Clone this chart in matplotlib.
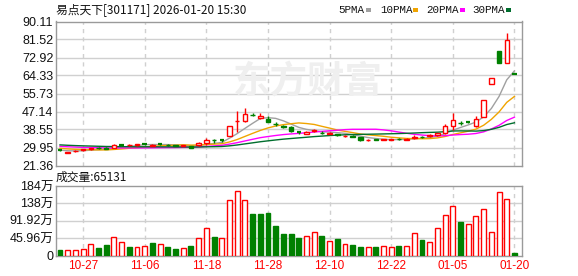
import matplotlib
matplotlib.use('Agg')
import matplotlib.pyplot as plt
from matplotlib.patches import Rectangle
import numpy as np
import pandas as pd

plt.rcParams['font.family'] = ['Liberation Sans', 'Noto Sans CJK SC']

title_text = '易点天下[301171] 2026-01-20 15:30'
volume_title = '成交量:65131'

pre_closes = [33.5, 33.0, 32.8, 32.4, 32.6, 32.3, 32.5, 32.2, 32.4, 32.3,
              31.8, 31.5, 31.9, 31.2, 31.6, 31.0, 31.4, 31.3, 30.9, 31.4,
              31.0, 30.6, 30.4, 30.2, 30.3,
              29.4, 28.9, 28.6, 28.1]

opens = [28.6, 27.5, 28.2, 28.6, 29.0, 29.7, 29.9, 29.6, 31.3, 31.0,
         31.1, 31.7, 30.9, 31.5, 31.3, 31.0, 30.7, 30.5, 31.2, 32.0,
         33.5, 33.5, 35.6, 42.4, 42.4, 45.6, 44.2, 43.5, 41.4, 40.2,
         39.6, 37.2, 36.6, 37.6, 37.0, 36.6, 36.3, 35.3, 35.6, 34.9,
         33.4, 33.8, 33.5, 33.6, 34.0, 33.7, 34.4, 35.1, 35.3, 35.8,
         36.8, 40.1, 41.8, 41.9, 40.3, 44.5, 60.4, 75.9, 70.3, 65.2]
highs = [28.8, 28.0, 28.6, 29.2, 29.8, 30.0, 30.2, 31.4, 31.7, 31.5,
         31.6, 32.2, 31.5, 32.0, 31.5, 31.2, 31.2, 30.8, 32.5, 34.4,
         34.1, 34.1, 40.1, 47.5, 49.0, 46.6, 46.2, 45.2, 41.9, 40.8,
         40.1, 37.9, 37.6, 38.7, 37.6, 37.3, 36.5, 35.9, 35.8, 35.1,
         33.9, 34.0, 34.0, 34.1, 34.3, 34.3, 35.8, 35.3, 36.2, 37.0,
         41.4, 46.6, 42.5, 42.6, 45.2, 52.8, 63.2, 75.9, 84.6, 65.2]
lows = [28.3, 27.1, 28.0, 28.4, 28.9, 29.3, 29.0, 29.5, 30.9, 30.8,
        30.9, 31.2, 30.7, 31.0, 30.9, 30.6, 30.6, 29.6, 30.8, 31.2,
        32.2, 32.5, 35.3, 37.5, 42.0, 44.8, 43.6, 41.9, 40.3, 39.3,
        37.5, 36.5, 36.2, 37.3, 36.5, 36.2, 35.6, 35.0, 34.9, 33.0,
        33.2, 33.3, 33.3, 33.4, 33.5, 33.5, 34.2, 34.6, 35.1, 35.5,
        36.2, 38.3, 40.9, 41.5, 39.9, 44.4, 60.4, 70.2, 70.2, 65.2]
closes = [28.5, 27.9, 28.5, 29.0, 29.6, 29.5, 29.3, 31.1, 31.2, 31.3,
          31.4, 31.6, 31.3, 31.4, 31.0, 30.8, 31.0, 29.9, 31.9, 33.4,
          33.3, 33.4, 40.0, 42.8, 45.8, 45.4, 45.0, 42.0, 41.1, 39.9,
          37.7, 37.1, 37.2, 38.4, 36.8, 37.0, 35.8, 35.6, 35.1, 33.3,
          33.7, 33.6, 33.8, 33.9, 33.8, 34.1, 35.2, 34.9, 35.7, 36.7,
          40.4, 43.2, 41.6, 41.8, 43.6, 52.7, 63.2, 70.3, 81.5, 65.1]

# volume in 万 shares
volumes = [13.3, 13.3, 13.3, 16.0, 29.3, 19.6, 26.7, 49.8, 34.7, 21.3,
           21.3, 25.8, 32.0, 29.3, 21.3, 16.0, 18.7, 24.0, 47.1, 73.7,
           48.0, 45.3, 145.7, 169.6, 145.7, 109.2, 109.2, 111.9, 77.3, 56.0,
           56.0, 45.3, 52.4, 63.1, 50.6, 37.3, 42.6, 29.3, 26.7, 21.3,
           23.1, 21.3, 25.8, 23.1, 24.0, 25.8, 58.6, 40.0, 34.7, 72.0,
           106.6, 130.6, 88.8, 82.6, 103.9, 121.7, 61.3, 167.8, 149.2, 6.5]
vol_dirs = ['g', 'r', 'r', 'r', 'r', 'g', 'g', 'r', 'r', 'g',
            'r', 'r', 'g', 'r', 'g', 'g', 'r', 'g', 'r', 'r',
            'g', 'r', 'r', 'r', 'r', 'g', 'g', 'g', 'g', 'g',
            'g', 'g', 'r', 'r', 'g', 'r', 'g', 'r', 'g', 'g',
            'r', 'g', 'r', 'r', 'g', 'r', 'r', 'g', 'r', 'r',
            'r', 'r', 'g', 'r', 'r', 'r', 'r', 'r', 'r', 'g']

price_ticks = [21.36, 29.95, 38.55, 47.14, 55.73, 64.33, 72.92, 81.52, 90.11]
vol_ticks = [0, 45.96, 91.92, 137.88, 183.84]
vol_tick_labels = ['0', '45.96万', '91.92万', '138万', '184万']
date_positions = [3, 11, 19, 27, 35, 43, 51, 59]
date_labels = ['10-27', '11-06', '11-18', '11-28', '12-10', '12-22', '01-05', '01-20']

ma_periods = [5, 10, 20, 30]
ma_names = ['5PMA', '10PMA', '20PMA', '30PMA']
ma_colors = ['#a0a0a0', '#f0a400', '#ff00ff', '#006e2e']

RED = '#ff0000'
GREEN = '#008000'
GRID = '#d0d0d0'
FRAME = '#9a9a9a'

W, H = 578, 276
fig = plt.figure(figsize=(W / 100, H / 100), dpi=100)


def fig_rect(x0, y0, x1, y1):
    return [x0 / W, 1 - y1 / H, (x1 - x0) / W, (y1 - y0) / H]


n = len(closes)
xlim = (-0.52, n - 0.02)

ax = fig.add_axes(fig_rect(56, 21.5, 522, 165.5))
axv = fig.add_axes(fig_rect(56, 186, 522, 255.5))

for a in (ax, axv):
    a.set_xlim(*xlim)
    for s in a.spines.values():
        s.set_color(FRAME)
        s.set_linewidth(1)
    a.tick_params(length=0)
    a.set_xticks([])
    for p in date_positions:
        a.axvline(p, color=GRID, lw=1, ls=(0, (3, 3)), zorder=0)

# price panel
ax.set_ylim(price_ticks[0], price_ticks[-1])
ax.set_yticks(price_ticks)
ax.set_yticklabels([f'{t:.2f}' for t in price_ticks], fontsize=9, color='#111111')
ax.tick_params(axis='y', pad=2)
for t in price_ticks[1:-1]:
    ax.axhline(t, color=GRID, lw=1, zorder=0)

ax.text(0.54, 0.58, '东方财富', transform=ax.transAxes, fontsize=27,
        family=['Noto Sans CJK SC'], fontweight='bold', color='#efefef',
        ha='center', va='center', zorder=0.5, style='italic')

all_close = pd.Series(pre_closes + closes)
for per, col in zip(ma_periods, ma_colors):
    ma = all_close.rolling(per).mean().to_numpy()[-n:]
    ax.plot(np.arange(n), ma, color=col, lw=1, zorder=2)

bw = 0.58
for i in range(n):
    o, h, l, c = opens[i], highs[i], lows[i], closes[i]
    up = c > o
    col = RED if up else GREEN
    ax.vlines(i, l, h, color=col, lw=1, zorder=3)
    bottom = min(o, c)
    height = abs(c - o)
    if height < 0.12:
        ax.hlines(o, i - bw / 2, i + bw / 2, color=col, lw=1.6, zorder=4)
    else:
        ax.add_patch(Rectangle((i - bw / 2, bottom), bw, height,
                               facecolor='white' if up else col,
                               edgecolor=col, lw=1, zorder=4))

# volume panel
axv.set_ylim(0, vol_ticks[-1])
axv.set_yticks(vol_ticks)
axv.set_yticklabels(vol_tick_labels, fontsize=9, color='#111111',
                    family=['Liberation Sans', 'Noto Sans CJK SC'])
axv.tick_params(axis='y', pad=2)
for t in vol_ticks[1:-1]:
    axv.axhline(t, color=GRID, lw=1, zorder=0)
vw = 0.64
for i in range(n):
    col = RED if vol_dirs[i] == 'r' else GREEN
    axv.add_patch(Rectangle((i - vw / 2, 0), vw, volumes[i],
                            facecolor='white' if vol_dirs[i] == 'r' else col,
                            edgecolor=col, lw=1, zorder=3))

for p, lab in zip(date_positions, date_labels):
    fig.text((56 + (p - xlim[0]) / (xlim[1] - xlim[0]) * 466) / W, 1 - 266 / H, lab,
             color=RED, fontsize=8.5, ha='center', va='center')

# titles
fig.text(56 / W, 1 - 9.5 / H, title_text, fontsize=8.5,
         family=['Noto Sans CJK SC'], va='center', ha='left', color='#111111')
fig.text(56 / W, 1 - 177 / H, volume_title, fontsize=8.5,
         family=['Noto Sans CJK SC'], va='center', ha='left', color='#111111')

# legend
leg_x = [338, 380, 426, 472]
mk_x = [366, 413, 460, 506]
for name, col, tx, mx in zip(ma_names, ma_colors, leg_x, mk_x):
    fig.text(tx / W, 1 - 10 / H, name, fontsize=7.8, family=['Liberation Mono'],
             va='center', ha='left', color='#111111')
    fig.patches.append(Rectangle((mx / W, 1 - 12 / H), 5 / W, 4 / H,
                                 transform=fig.transFigure, facecolor=col,
                                 edgecolor='none'))

fig.savefig('out.png', dpi=100)
